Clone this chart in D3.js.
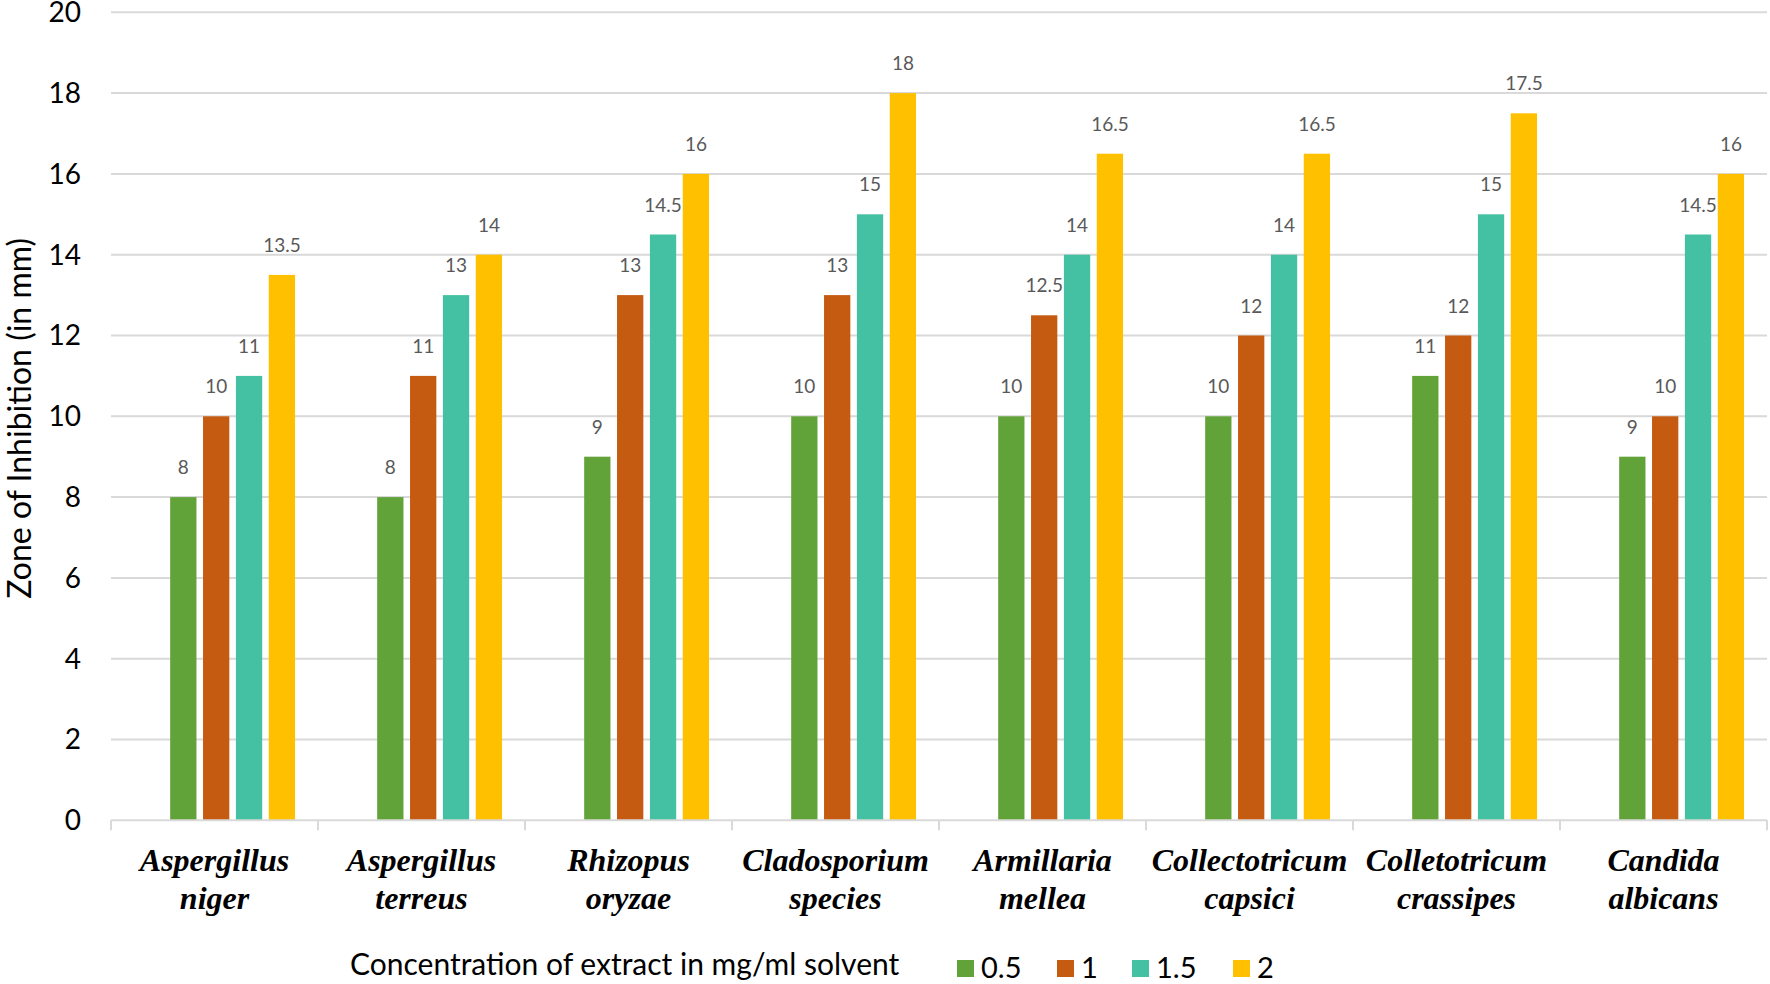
<!DOCTYPE html>
<html>
<head>
<meta charset="utf-8">
<script src="https://cdn.jsdelivr.net/npm/d3@7/dist/d3.min.js"></script>
<style>
  html, body { margin: 0; padding: 0; background: #fff; }
  svg { display: block; }
</style>
</head>
<body>
<svg id="chart" width="1770" height="984"></svg>
<script>
// ---- data ----
const categories = [
  "Aspergillus niger", "Aspergillus terreus", "Rhizopus oryzae", "Cladosporium species",
  "Armillaria mellea", "Collectotricum capsici", "Colletotricum crassipes", "Candida albicans"
];
const seriesNames = ["0.5", "1", "1.5", "2"];
const values05 = [8, 8, 9, 10, 10, 10, 11, 9];
const values1 = [10, 11, 13, 13, 12.5, 12, 12, 10];
const values15 = [11, 13, 14.5, 15, 14, 14, 15, 14.5];
const values2 = [13.5, 14, 16, 18, 16.5, 16.5, 17.5, 16];
const yTicks = [0, 2, 4, 6, 8, 10, 12, 14, 16, 18, 20];
const seriesColors = ["#62A339", "#C55A11", "#43C1A2", "#FFC000"];
const yTitle = "Zone of Inhibition (in mm)";
const legendTitle = "Concentration of extract in mg/ml solvent";

const allValues = [values05, values1, values15, values2];

(function () {
// ---- layout ----
const svg = d3.select("#chart");
const pLeft = 111, pRight = 1767, pTop = 12.3, pBottom = 820.3;
const sansFont = "Lato, 'Open Sans', 'Liberation Sans', sans-serif";

const x = d3.scaleBand().domain(categories).range([pLeft, pRight]).padding(0);
const bw = x.bandwidth();
const xInner = d3.scaleBand().domain(seriesNames)
  .range([bw * 0.27, bw * 0.905]).paddingInner(0.2).paddingOuter(0.1);
const y = d3.scaleLinear().domain([0, 20]).range([pBottom, pTop]);

// gridlines
svg.append("g").selectAll("line").data(yTicks.filter(t => t > 0)).join("line")
  .attr("x1", pLeft).attr("x2", pRight)
  .attr("y1", d => y(d)).attr("y2", d => y(d))
  .attr("stroke", "#D9D9D9").attr("stroke-width", 2);

// y tick labels
svg.append("g").selectAll("text").data(yTicks).join("text")
  .attr("x", pLeft - 30).attr("y", d => y(d)).attr("dy", "0.35em")
  .attr("text-anchor", "end")
  .attr("font-family", sansFont).attr("font-size", 28).attr("fill", "#000")
  .text(d => d);

// y title
svg.append("text")
  .attr("transform", `translate(31,${(pTop + pBottom) / 2 + 2}) rotate(-90)`)
  .attr("text-anchor", "middle")
  .attr("font-family", sansFont).attr("font-size", 32).attr("fill", "#000")
  .text(yTitle);

// bars
const barData = [];
categories.forEach((c, i) => {
  seriesNames.forEach((s, j) => {
    barData.push({ cat: c, series: s, value: allValues[j][i], color: seriesColors[j] });
  });
});
const barsG = svg.append("g");
barsG.selectAll("rect").data(barData).join("rect")
  .attr("x", d => x(d.cat) + xInner(d.series))
  .attr("width", xInner.bandwidth())
  .attr("y", d => y(d.value))
  .attr("height", d => y(0) - y(d.value))
  .attr("fill", d => d.color);

// data labels
barsG.selectAll("text").data(barData).join("text")
  .attr("x", d => x(d.cat) + xInner(d.series) + xInner.bandwidth() / 2)
  .attr("y", d => y(d.value) - 23)
  .attr("text-anchor", "middle")
  .attr("font-family", sansFont).attr("font-size", 19).attr("fill", "#595959")
  .text(d => d.value);

// x axis line + ticks
svg.append("line")
  .attr("x1", pLeft).attr("x2", pRight).attr("y1", pBottom).attr("y2", pBottom)
  .attr("stroke", "#D9D9D9").attr("stroke-width", 2);
const bounds = categories.map(c => x(c)).concat([x(categories[categories.length - 1]) + bw]);
svg.append("g").selectAll("line").data(bounds).join("line")
  .attr("x1", d => d).attr("x2", d => d).attr("y1", pBottom).attr("y2", pBottom + 10)
  .attr("stroke", "#D9D9D9").attr("stroke-width", 2);

// category labels (two lines)
const catG = svg.append("g");
categories.forEach(c => {
  const parts = c.split(" ");
  const t = catG.append("text")
    .attr("text-anchor", "middle")
    .attr("font-family", "'Liberation Serif', 'Times New Roman', serif")
    .attr("font-style", "italic").attr("font-weight", "bold")
    .attr("font-size", 32).attr("fill", "#000");
  t.append("tspan").attr("x", x(c) + bw / 2).attr("y", 871).text(parts[0]);
  t.append("tspan").attr("x", x(c) + bw / 2).attr("y", 909).text(parts.slice(1).join(" "));
});

// legend
const legG = svg.append("g");
legG.append("text")
  .attr("x", 350).attr("y", 975)
  .attr("font-family", sansFont).attr("font-size", 30).attr("fill", "#000")
  .text(legendTitle);
const legX = [957, 1057, 1132, 1233];
seriesNames.forEach((s, j) => {
  legG.append("rect").attr("x", legX[j]).attr("y", 960).attr("width", 17).attr("height", 17)
    .attr("fill", seriesColors[j]);
  legG.append("text").attr("x", legX[j] + 24).attr("y", 978)
    .attr("font-family", sansFont).attr("font-size", 29).attr("fill", "#000")
    .text(s);
});
})();
</script>
</body>
</html>
